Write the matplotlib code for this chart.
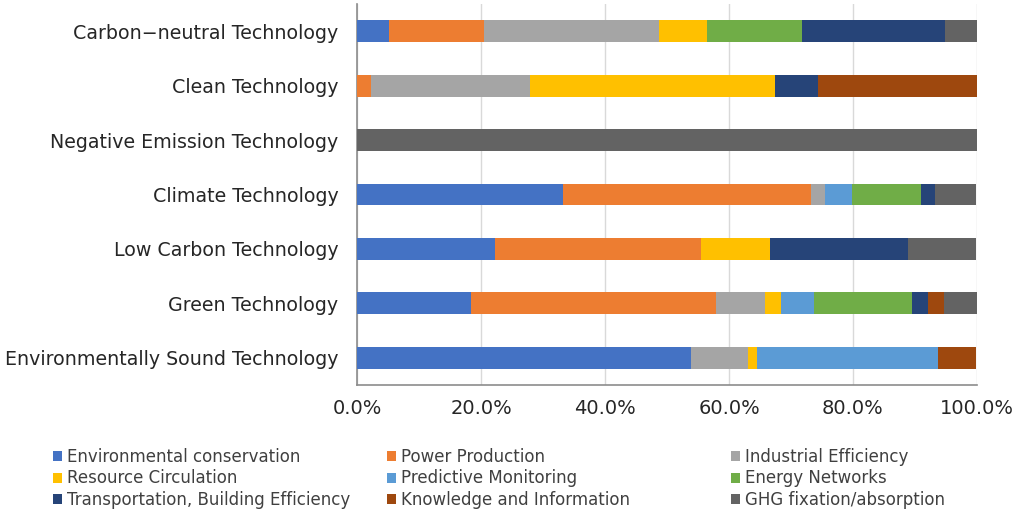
import matplotlib
matplotlib.use("Agg")
import matplotlib.pyplot as plt
import numpy as np
from matplotlib.patches import Patch
from matplotlib.ticker import FuncFormatter

# categories, top to bottom
categories = [
    "Carbon\u2212neutral Technology",
    "Clean Technology",
    "Negative Emission Technology",
    "Climate Technology",
    "Low Carbon Technology",
    "Green Technology",
    "Environmentally Sound Technology",
]

# share of each field (%), same order as categories
env_conservation = [5.1, 0.0, 0.0, 33.3, 22.2, 18.4, 53.8]
power_production = [15.4, 2.3, 0.0, 40.0, 33.3, 39.5, 0.0]
industrial_eff = [28.2, 25.6, 0.0, 2.2, 0.0, 7.9, 9.2]
resource_circ = [7.7, 39.5, 0.0, 0.0, 11.1, 2.6, 1.5]
predictive_mon = [0.0, 0.0, 0.0, 4.4, 0.0, 5.3, 29.2]
energy_networks = [15.4, 0.0, 0.0, 11.1, 0.0, 15.8, 0.0]
transport_building = [23.1, 7.0, 0.0, 2.2, 22.2, 2.6, 0.0]
knowledge_info = [0.0, 25.6, 0.0, 0.0, 0.0, 2.6, 6.2]
ghg_fixation = [5.1, 0.0, 100.0, 6.7, 11.1, 5.3, 0.0]

series_names = [
    "Environmental conservation", "Power Production", "Industrial Efficiency",
    "Resource Circulation", "Predictive Monitoring", "Energy Networks",
    "Transportation, Building Efficiency", "Knowledge and Information",
    "GHG fixation/absorption",
]
series_values = [
    env_conservation, power_production, industrial_eff, resource_circ,
    predictive_mon, energy_networks, transport_building, knowledge_info,
    ghg_fixation,
]
colors = ["#4472C4", "#ED7D31", "#A5A5A5", "#FFC000", "#5B9BD5",
          "#70AD47", "#264478", "#9E480E", "#636363"]

fig = plt.figure(figsize=(10.16, 5.11), dpi=100)
ax = fig.add_axes([0.3514, 0.2466, 0.6102, 0.7454])

y = np.arange(len(categories))
left = np.zeros(len(categories))
for name, vals, col in zip(series_names, series_values, colors):
    vals = np.array(vals, dtype=float)
    ax.barh(y, vals, left=left, height=0.4, color=col, label=name, zorder=3)
    left += vals

ax.set_ylim(len(categories) - 0.5, -0.5)
ax.set_xlim(0, 100)
ax.set_yticks(y)
ax.set_yticklabels(categories, fontsize=13.7, color="#262626")
ax.set_xticks(np.arange(0, 101, 20))
ax.xaxis.set_major_formatter(FuncFormatter(lambda v, _: f"{v:.1f}%"))
ax.tick_params(axis="x", labelsize=14, colors="#262626", length=0, pad=10)
ax.tick_params(axis="y", length=0, pad=13.5)
ax.grid(True, axis="x", color="#D9D9D9", linewidth=1, zorder=0)
for side in ("top", "right"):
    ax.spines[side].set_visible(False)
for side in ("left", "bottom"):
    ax.spines[side].set_color("#8C8C8C")
    ax.spines[side].set_linewidth(1.2)

# legend in three columns, filled row-wise
handles = [Patch(facecolor=c, edgecolor="none") for c in colors]
col_x = [0.052, 0.381, 0.719]
leg_font = {"family": ["Liberation Sans Narrow", "DejaVu Sans"], "size": 12}
for i, x0 in enumerate(col_x):
    idx = [i, i + 3, i + 6]
    leg = fig.legend(
        [handles[k] for k in idx], [series_names[k] for k in idx],
        loc="upper left", bbox_to_anchor=(x0, 0.123), frameon=False,
        prop=leg_font, handlelength=0.55, handleheight=0.55,
        handletextpad=0.3, labelspacing=0.2, borderaxespad=0, borderpad=0,
    )
    for t in leg.get_texts():
        t.set_color("#404040")

fig.savefig("out.png", dpi=100)
